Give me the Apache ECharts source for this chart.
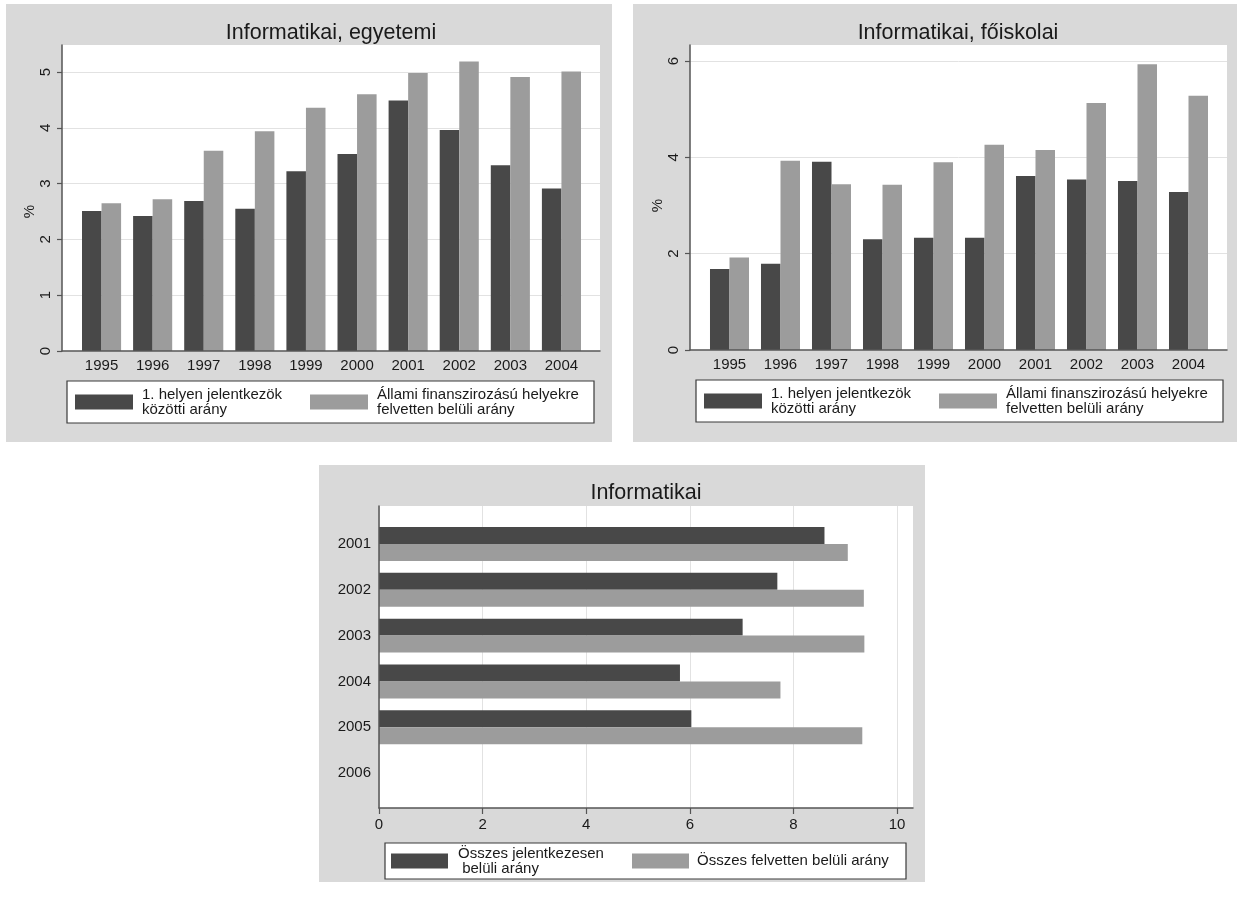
<!DOCTYPE html>
<html>
<head>
<meta charset="utf-8">
<title>Informatikai</title>
<script src="https://cdn.jsdelivr.net/npm/echarts@6/dist/echarts.min.js"></script>
<style>
  html, body { margin: 0; padding: 0; background: #ffffff; }
  #chart { width: 1237px; height: 899px; }
</style>
</head>
<body>
<div id="chart"></div>
<script>
// ---- data -------------------------------------------------------------
const years = ['1995', '1996', '1997', '1998', '1999', '2000', '2001', '2002', '2003', '2004'];

// Informatikai, egyetemi (%)
const egyetemiElsoHely = [2.51, 2.42, 2.69, 2.55, 3.22, 3.53, 4.49, 3.96, 3.33, 2.91];
const egyetemiAllami   = [2.65, 2.72, 3.59, 3.94, 4.36, 4.60, 4.98, 5.19, 4.91, 5.01];

// Informatikai, főiskolai (%)
const foiskolaiElsoHely = [1.68, 1.79, 3.91, 2.30, 2.33, 2.33, 3.61, 3.54, 3.51, 3.28];
const foiskolaiAllami   = [1.92, 3.93, 3.44, 3.43, 3.90, 4.26, 4.15, 5.13, 5.93, 5.28];

// Informatikai, összes (%)
const osszesYears       = ['2001', '2002', '2003', '2004', '2005', '2006'];
const osszesJelentkezes = [8.60, 7.69, 7.02, 5.81, 6.03, null];
const osszesFelvett     = [9.05, 9.36, 9.37, 7.75, 9.33, null];

// axis tick settings
const egyetemiTicks  = { min: 0, max: 5, interval: 1 };
const foiskolaiTicks = { min: 0, max: 6, interval: 2 };
const osszesTicks    = { min: 0, max: 10, interval: 2 };

// series / legend names
const NAME_ELSO   = '1. helyen jelentkezök\nközötti arány';
const NAME_ALLAMI = 'Állami finanszirozású helyekre\nfelvetten belüli arány';
const NAME_OSSZ_J = 'Összes jelentkezesen\n belüli arány';
const NAME_OSSZ_F = 'Összes felvetten belüli arány';

// ---- style ------------------------------------------------------------
const FONT = '"Liberation Sans", Arial, Helvetica, sans-serif';
const DARK = '#484848';
const LIGHT = '#9c9c9c';
const PANEL = '#d9d9d9';
const GRIDLINE = '#e2e2e2';
const AXIS = '#555555';
const TEXT = '#1a1a1a';

const chart = echarts.init(document.getElementById('chart'), null, { renderer: 'canvas' });

// white plot region with the two axis lines
function boxAxes(gi) {
  return {
    x: { gridIndex: gi, type: 'value', min: 0, max: 1, z: 3,
         axisLine: { show: true, onZero: false, lineStyle: { color: AXIS, width: 1.5 } },
         axisTick: { show: false }, axisLabel: { show: false }, splitLine: { show: false } },
    y: { gridIndex: gi, type: 'value', min: 0, max: 1, z: 3,
         axisLine: { show: true, onZero: false, lineStyle: { color: AXIS, width: 1.5 } },
         axisTick: { show: false }, axisLabel: { show: false }, splitLine: { show: false } }
  };
}
const hidden = (gi, type, extra) => Object.assign({ gridIndex: gi, type: type, show: false }, extra || {});

const grids = [
  // egyetemi
  { left: 62, top: 45, width: 538, height: 306, show: true, backgroundColor: '#fff', borderWidth: 0, z: 0 },
  { left: 62, top: 72, width: 538, height: 279 },
  { left: 76, top: 72, width: 511, height: 279 },
  // főiskolai
  { left: 690, top: 45, width: 537, height: 305, show: true, backgroundColor: '#fff', borderWidth: 0, z: 0 },
  { left: 690, top: 61, width: 537, height: 289 },
  { left: 704, top: 61, width: 510, height: 289 },
  // összes
  { left: 379, top: 506, width: 534, height: 302, show: true, backgroundColor: '#fff', borderWidth: 0, z: 0 },
  { left: 379, top: 506, width: 518, height: 302 },
  { left: 379, top: 521, width: 518, height: 275 }
];

function valueY(gi, ticks) {
  return {
    gridIndex: gi, type: 'value', min: ticks.min, max: ticks.max, interval: ticks.interval, z: 1,
    name: '%', nameLocation: 'middle', nameGap: 24, nameRotate: 90,
    nameTextStyle: { fontFamily: FONT, fontSize: 15, color: TEXT },
    axisLine: { show: false },
    axisTick: { show: true, length: 5, lineStyle: { color: AXIS, width: 1.2 } },
    axisLabel: { rotate: 90, margin: 9, fontFamily: FONT, fontSize: 15, color: TEXT },
    splitLine: { show: true, lineStyle: { color: GRIDLINE, width: 1 } }
  };
}
function yearX(gi, cats) {
  return {
    gridIndex: gi, type: 'category', data: cats, z: 1,
    axisLine: { show: false }, axisTick: { show: false },
    axisLabel: { margin: 7, fontFamily: FONT, fontSize: 15, color: TEXT }
  };
}

const b0 = boxAxes(0), b3 = boxAxes(3), b6 = boxAxes(6);

const xAxes = [
  b0.x, hidden(1, 'value', { min: 0, max: 1 }), yearX(2, years),
  b3.x, hidden(4, 'value', { min: 0, max: 1 }), yearX(5, years),
  b6.x,
  { gridIndex: 7, type: 'value', min: osszesTicks.min, max: osszesTicks.max, interval: osszesTicks.interval, z: 1,
    axisLine: { show: false },
    axisTick: { show: true, length: 6, lineStyle: { color: AXIS, width: 1.2 } },
    axisLabel: { margin: 9, fontFamily: FONT, fontSize: 15, color: TEXT },
    splitLine: { show: true, lineStyle: { color: GRIDLINE, width: 1 } } },
  hidden(8, 'value', { min: osszesTicks.min, max: osszesTicks.max })
];
const yAxes = [
  b0.y, valueY(1, egyetemiTicks), hidden(2, 'value', { min: egyetemiTicks.min, max: egyetemiTicks.max }),
  b3.y, valueY(4, foiskolaiTicks), hidden(5, 'value', { min: foiskolaiTicks.min, max: foiskolaiTicks.max }),
  b6.y, hidden(7, 'value', { min: 0, max: 1 }),
  { gridIndex: 8, type: 'category', data: osszesYears, inverse: true, z: 1,
    axisLine: { show: false }, axisTick: { show: false },
    axisLabel: { margin: 8, fontFamily: FONT, fontSize: 15, color: TEXT } }
];

function bar(name, data, gi, color, gap) {
  return {
    type: 'bar', name: name, data: data, xAxisIndex: gi, yAxisIndex: gi,
    barGap: '0%', barCategoryGap: gap, clip: false, z: 2,
    itemStyle: { color: color }, emphasis: { disabled: true }, animation: false
  };
}

const series = [
  bar(NAME_ELSO, egyetemiElsoHely, 2, DARK, '23.5%'),
  bar(NAME_ALLAMI, egyetemiAllami, 2, LIGHT, '23.5%'),
  bar(NAME_ELSO, foiskolaiElsoHely, 5, DARK, '23.5%'),
  bar(NAME_ALLAMI, foiskolaiAllami, 5, LIGHT, '23.5%'),
  bar(NAME_OSSZ_J, osszesJelentkezes, 8, DARK, '26%'),
  bar(NAME_OSSZ_F, osszesFelvett, 8, LIGHT, '26%')
];

function legendBox(left, top, padding, itemWidth, gap, items) {
  return {
    left: left, top: top, orient: 'horizontal', padding: padding,
    itemWidth: itemWidth, itemHeight: 15, itemGap: gap, icon: 'rect',
    selectedMode: false, borderColor: '#3a3a3a', borderWidth: 1.2, borderRadius: 0,
    backgroundColor: '#ffffff',
    textStyle: { fontFamily: FONT, fontSize: 15, lineHeight: 15, color: TEXT },
    data: items.map(it => ({ name: it[0], textStyle: { width: it[1], padding: [0, 0, 0, it[2]], overflow: 'none' } }))
  };
}

const legends = [
  legendBox(67, 381, [6, 11, 6, 8], 58, 18, [[NAME_ELSO, 150, 4], [NAME_ALLAMI, 206, 4]]),
  legendBox(696, 380, [6, 11, 6, 8], 58, 18, [[NAME_ELSO, 150, 4], [NAME_ALLAMI, 206, 4]]),
  legendBox(385, 843, [3, 10, 3, 6], 57, 24, [[NAME_OSSZ_J, 150, 5], [NAME_OSSZ_F, 199, 3]])
];

function panel(x, y, w, h) {
  return { type: 'rect', z: -10, silent: true, shape: { x: x, y: y, width: w, height: h }, style: { fill: PANEL } };
}
function title(text, cx, cy) {
  return { type: 'text', z: 5, silent: true, x: cx, y: cy,
           style: { text: text, fontFamily: FONT, fontSize: 21.5, fill: TEXT, align: 'center', verticalAlign: 'middle' } };
}

chart.setOption({
  animation: false,
  grid: grids,
  xAxis: xAxes,
  yAxis: yAxes,
  series: series,
  legend: legends,
  graphic: { elements: [
    panel(6, 4, 606, 438),
    panel(633, 4, 604, 438),
    panel(319, 465, 606, 417),
    title('Informatikai, egyetemi', 331, 33),
    title('Informatikai, főiskolai', 958, 33),
    title('Informatikai', 646, 493)
  ] }
});
</script>
</body>
</html>
